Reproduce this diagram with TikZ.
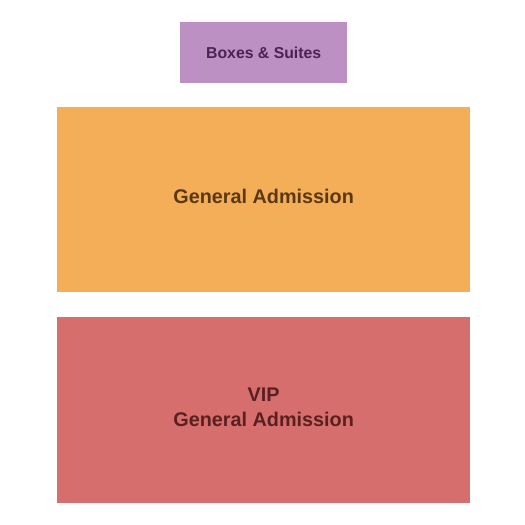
\documentclass[tikz,border=0pt]{standalone}
\usepackage{fontspec}
\setmainfont{Liberation Sans}
\definecolor{boxfill}{HTML}{BC90C2}
\definecolor{gafill}{HTML}{F3AE57}
\definecolor{vipfill}{HTML}{D76E6E}
\definecolor{boxtext}{HTML}{4A2350}
\definecolor{gatext}{HTML}{5A3814}
\definecolor{viptext}{HTML}{5A2020}
\begin{document}
\begin{tikzpicture}[x=1pt,y=-1pt,
  section/.style={draw=none,inner sep=0pt,anchor=north west,font=\bfseries}]
\useasboundingbox (0,0) rectangle (525,525);
\fill[white] (0,0) rectangle (525,525);
\node[section,fill=boxfill,minimum width=167pt,minimum height=61pt] (boxes) at (180,22) {};
\node[font=\bfseries\fontsize{15.8}{18}\selectfont,text=boxtext] (boxeslbl) at (boxes.center) {Boxes \& Suites};
\node[section,fill=gafill,minimum width=413pt,minimum height=185pt] (ga) at (57,107) {};
\node[font=\bfseries\fontsize{19.8}{25}\selectfont,text=gatext] (galbl) at ([yshift=3pt]ga.center) {General Admission};
\node[section,fill=vipfill,minimum width=413pt,minimum height=186pt] (vip) at (57,317) {};
\node[font=\bfseries\fontsize{19.8}{25}\selectfont,text=viptext,align=center] (viplbl) at ([yshift=3pt]vip.center) {VIP\\General Admission};
\end{tikzpicture}
\end{document}
